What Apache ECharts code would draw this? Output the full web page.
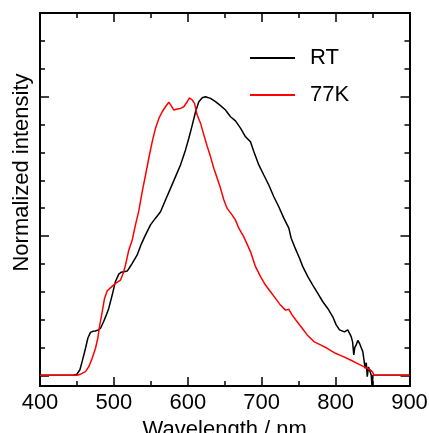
<!DOCTYPE html>
<html>
<head>
<meta charset="utf-8">
<script src="https://cdn.jsdelivr.net/npm/echarts@6.0.0/dist/echarts.min.js"></script>
<style>
html,body{margin:0;padding:0;background:#fff;}
#chart{width:429px;height:433px;}
</style>
</head>
<body>
<div id="chart"></div>
<script>
// Wavelength (nm) and normalized intensity for the RT spectrum
var wlRT = [400,445,450,454,457,461.6,464.7,468.3,472,475,479,482,486,489.5,493,497.7,502,506.6,510,513.4,518,521,524.8,531.5,536.9,542.8,549.5,556.3,563.1,569.8,576.6,583.4,590.1,596.9,601.4,606,610.5,614.9,619.5,624,630.8,637.5,644.3,651,657.8,664.5,671.3,678.1,684.8,689.3,696.1,702.8,709.6,716.4,723.1,729.9,736.7,739.9,744.4,751.2,755.6,762.4,769.1,775.9,782.7,789.4,796.2,800.8,805.3,808,812,816.5,821.1,823,824.6,826,827.9,830,832.3,836.8,840,841.5,842.8,844.5,845.9,847,848.2,849.5,850.5,900];
var intRT = [0,0,0.004,0.02,0.049,0.097,0.133,0.154,0.158,0.159,0.163,0.169,0.192,0.215,0.240,0.288,0.336,0.363,0.370,0.372,0.374,0.386,0.402,0.432,0.470,0.504,0.540,0.564,0.587,0.629,0.671,0.713,0.755,0.809,0.851,0.898,0.946,0.982,0.996,1.0,0.994,0.982,0.968,0.952,0.928,0.913,0.887,0.856,0.838,0.803,0.755,0.719,0.683,0.641,0.605,0.564,0.528,0.492,0.462,0.420,0.390,0.354,0.324,0.294,0.264,0.240,0.210,0.181,0.163,0.170,0.156,0.163,0.139,0.120,0.073,0.100,0.109,0.125,0.115,0.085,0.025,0.045,-0.005,0.030,0.025,0.035,0.001,-0.05,0,0];
// Wavelength (nm) and normalized intensity for the 77K spectrum
var wl77 = [400,450,454.8,461.6,466,470.6,475.1,478.2,480.9,484.2,487.3,490.9,495.4,502.2,508.9,512.6,515.7,520.2,524.8,529.2,533.7,538.3,542.8,547.2,551.8,556.3,560.8,565.4,569.8,574.3,577.5,581.1,585.7,590.1,594.6,599.2,602.3,606,609.1,612.7,617.2,621.7,626.3,630.7,635.2,639.8,644.3,648.7,653.3,660.1,664.5,669,675.8,680.4,684.8,691.6,698.4,705.1,711.9,718.7,725.4,732.2,736.7,741.3,748,754.8,761.6,770.5,779.6,788.6,799.8,808.9,820.2,829.2,838.2,847.2,850,851.7,900];
var int77 = [0,0,0.004,0.013,0.031,0.061,0.097,0.133,0.181,0.228,0.276,0.303,0.314,0.330,0.342,0.366,0.396,0.450,0.486,0.540,0.590,0.659,0.719,0.779,0.838,0.887,0.922,0.946,0.964,0.980,0.968,0.952,0.956,0.958,0.964,0.982,0.996,0.988,0.976,0.934,0.905,0.863,0.821,0.785,0.743,0.707,0.671,0.630,0.599,0.575,0.557,0.528,0.497,0.470,0.444,0.390,0.354,0.324,0.300,0.276,0.252,0.234,0.237,0.216,0.192,0.169,0.145,0.121,0.109,0.097,0.079,0.069,0.055,0.043,0.031,0.019,0.012,0,0];
var seriesNames = ['RT', '77K'];
var xTickLabels = [400, 500, 600, 700, 800, 900];
var yMajorTicks = [0, 0.5, 1.0];
var yMinorTicks = [0, 0.1, 0.2, 0.3, 0.4, 0.5, 0.6, 0.7, 0.8, 0.9, 1.0, 1.1, 1.2];

function pairs(xs, ys) { return xs.map(function (x, i) { return [x, ys[i]]; }); }

var FONT = 'Liberation Sans, Arial, sans-serif';
var YMIN = -0.0384, YMAX = 1.3004;

function xAx(pos, showLabel) {
  return {
    type: 'value', position: pos, min: xTickLabels[0], max: xTickLabels[xTickLabels.length - 1], interval: 100,
    axisLine: { show: true, onZero: false, lineStyle: { color: '#000', width: 2 } },
    axisTick: { show: true, inside: true, length: 9, lineStyle: { color: '#000', width: 1.5 } },
    minorTick: { show: true, splitNumber: 2, length: 5, lineStyle: { color: '#000', width: 1.5 } },
    axisLabel: { show: showLabel, fontSize: 22, color: '#000', fontFamily: FONT, margin: 6 },
    splitLine: { show: false }, minorSplitLine: { show: false },
    name: showLabel ? 'Wavelength / nm' : '', nameLocation: 'middle', nameGap: 23,
    nameTextStyle: { fontSize: 22, color: '#000', fontFamily: FONT }
  };
}
function yAx(pos, ticks, len) {
  return {
    type: 'value', position: pos, min: YMIN, max: YMAX,
    axisLine: { show: true, onZero: false, lineStyle: { color: '#000', width: 2 } },
    axisTick: { show: true, inside: true, length: len, customValues: ticks, lineStyle: { color: '#000', width: 1.5 } },
    axisLabel: { show: false },
    splitLine: { show: false }
  };
}

var chart = echarts.init(document.getElementById('chart'), null, { renderer: 'canvas' });
chart.setOption({
  animation: false,
  backgroundColor: '#fff',
  grid: { left: 40, top: 13, right: 19.5, bottom: 47, containLabel: false, outerBoundsMode: 'none' },
  xAxis: [xAx('bottom', true), xAx('top', false)],
  yAxis: [yAx('left', yMajorTicks, 9), yAx('left', yMinorTicks, 5), yAx('right', yMajorTicks, 9), yAx('right', yMinorTicks, 5)],
  legend: {
    data: seriesNames, orient: 'vertical', left: 245, top: 42, icon: 'rect', itemWidth: 45, itemHeight: 2, itemGap: 15,
    textStyle: { fontSize: 22, color: '#000', fontFamily: FONT, lineHeight: 22, padding: [0, 0, 0, 10] }
  },
  graphic: [{
    type: 'text', x: 22, y: 172.5, rotation: Math.PI / 2,
    style: { text: 'Normalized intensity', fontSize: 22, fontFamily: FONT, fill: '#000', align: 'center', verticalAlign: 'middle' }
  }],
  series: [
    { name: seriesNames[0], type: 'line', data: pairs(wlRT, intRT), symbol: 'none', showSymbol: false, clip: true,
      lineStyle: { color: '#000', width: 1.5 }, itemStyle: { color: '#000' }, xAxisIndex: 0, yAxisIndex: 0 },
    { name: seriesNames[1], type: 'line', data: pairs(wl77, int77), symbol: 'none', showSymbol: false, clip: true,
      lineStyle: { color: '#ff0000', width: 1.5 }, itemStyle: { color: '#ff0000' }, xAxisIndex: 0, yAxisIndex: 0 }
  ]
});
</script>
</body>
</html>
